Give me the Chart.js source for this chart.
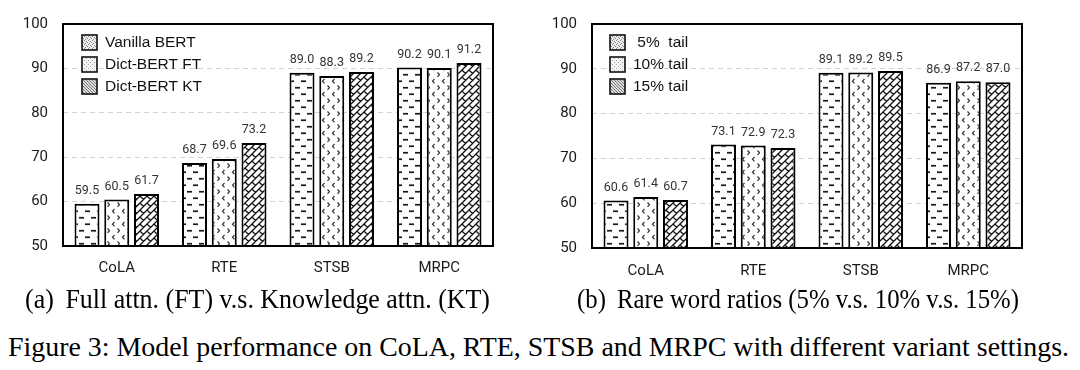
<!DOCTYPE html>
<html>
<head>
<meta charset="utf-8">
<script src="https://cdn.jsdelivr.net/npm/chart.js@4.4.1/dist/chart.umd.min.js"></script>
<style>
  html, body { margin: 0; padding: 0; background: #fff; }
  #wrap { position: relative; width: 1080px; height: 370px; overflow: hidden; background: #fff; }
  canvas { position: absolute; top: 0; }
  .cap { position: absolute; font-family: "Liberation Serif", "Times New Roman", serif; font-size: 28px;
         line-height: 28px; color: #000; white-space: pre; transform-origin: left top; }
</style>
</head>
<body>
<div id="wrap">
  <canvas id="c1" width="540" height="285" style="left:0px"></canvas>
  <canvas id="c2" width="540" height="285" style="left:540px"></canvas>
  <span class="cap" id="capA" data-left="25" data-width="465" data-base="308">(a)&#x2009; Full attn. (FT) v.s. Knowledge attn. (KT)</span>
  <span class="cap" id="capB" data-left="577" data-width="442" data-base="308">(b)&#x2009; Rare word ratios (5% v.s. 10% v.s. 15%)</span>
  <span class="cap" id="capF" data-left="8" data-width="1061" data-base="356">Figure 3: Model performance on CoLA, RTE, STSB and MRPC with different variant settings.</span>
</div>
<script>
// ---------------- data ----------------
const categories = ['CoLA', 'RTE', 'STSB', 'MRPC'];
const yTicks = [50, 60, 70, 80, 90, 100];

const seriesNamesA = ['Vanilla BERT', 'Dict-BERT FT', 'Dict-BERT KT'];
const vanillaBert = [59.5, 68.7, 89.0, 90.2];
const dictBertFT  = [60.5, 69.6, 88.3, 90.1];
const dictBertKT  = [61.7, 73.2, 89.2, 91.2];

const seriesNamesB = [' 5%  tail', '10% tail', '15% tail'];
const tail5  = [60.6, 73.1, 89.1, 86.9];
const tail10 = [61.4, 72.9, 89.2, 87.2];
const tail15 = [60.7, 72.3, 89.5, 87.0];

// ---------------- patterns ----------------
function tile(w, h, draw) {
  const c = document.createElement('canvas');
  c.width = w; c.height = h;
  const g = c.getContext('2d');
  g.fillStyle = '#fff'; g.fillRect(0, 0, w, h);
  draw(g);
  return c;
}
function dashPattern(ctx) {
  const c = tile(12, 13, g => {
    g.fillStyle = '#1a1a1a';
    g.fillRect(1, 2.4, 5, 1.7);
    g.fillRect(7, 8.9, 5, 1.7);
  });
  return ctx.createPattern(c, 'repeat');
}
function chevronPattern(ctx) {
  const c = tile(10, 13, g => {
    g.strokeStyle = '#333'; g.lineWidth = 1.2;
    g.beginPath();
    g.moveTo(4.5, 1); g.lineTo(2.5, 3.2); g.lineTo(4.5, 5.4);
    g.moveTo(7.5, 7.5); g.lineTo(9.5, 9.7); g.lineTo(7.5, 11.9);
    g.stroke();
  });
  return ctx.createPattern(c, 'repeat');
}
function brickPattern(ctx) {
  const s = 14;
  const c = tile(s, s, g => {
    g.strokeStyle = '#111'; g.lineWidth = 1.3;
    g.beginPath();
    for (let k = -6; k <= 6; k++) {
      const v = 7 * k;
      g.moveTo(-30, -30 + v); g.lineTo(50, 50 + v);
      const p = ((k % 2) + 2) % 2;
      for (let m = -6; m <= 6; m++) {
        const u = 14 * m + 7 * p;
        const x1 = (u - v) / 2, y1 = (u + v) / 2;
        const x2 = (u - v - 7) / 2, y2 = (u + v + 7) / 2;
        g.moveTo(x1, y1); g.lineTo(x2, y2);
      }
    }
    g.stroke();
  });
  const m = document.createElement('canvas');
  m.width = s; m.height = s;
  const mg = m.getContext('2d');
  mg.translate(s, 0); mg.scale(-1, 1); mg.drawImage(c, 0, 0);
  return ctx.createPattern(m, 'repeat');
}
function dotTile(ctx, bg, fg, pts, w, h) {
  const c = tile(w, h, g => {
    g.fillStyle = bg; g.fillRect(0, 0, w, h);
    g.fillStyle = fg;
    pts.forEach(p => g.fillRect(p[0], p[1], 1, 1));
  });
  return ctx.createPattern(c, 'repeat');
}
function legendPatterns(ctx) {
  return [
    dotTile(ctx, '#ececec', '#8a8a8a', [[0,0],[2,1],[1,3],[3,2]], 4, 4),
    dotTile(ctx, '#f3f3f3', '#a8a8a8', [[0,0],[2,2]], 4, 4),
    dotTile(ctx, '#dcdcdc', '#7a7a7a', [[0,0],[1,1],[2,2]], 3, 3)
  ];
}

// ---------------- plugins ----------------
const framePlugin = {
  id: 'frame',
  afterDraw(chart) {
    const { ctx, chartArea: a } = chart;
    ctx.save();
    ctx.strokeStyle = '#000'; ctx.lineWidth = 2;
    ctx.strokeRect(a.left, a.top, a.right - a.left, a.bottom - a.top);
    ctx.restore();
  }
};
const valueLabels = {
  id: 'valueLabels',
  afterDatasetsDraw(chart, args, opts) {
    const { ctx } = chart;
    ctx.save();
    ctx.font = '12.5px Roboto';
    ctx.fillStyle = '#333';
    ctx.textAlign = 'center';
    ctx.textBaseline = 'middle';
    chart.data.datasets.forEach((ds, i) => {
      chart.getDatasetMeta(i).data.forEach((el, j) => {
        ctx.fillText(ds.data[j].toFixed(1), el.x, el.y - opts.offset);
      });
    });
    ctx.restore();
  }
};
const insideLegend = {
  id: 'insideLegend',
  afterDraw(chart, args, opts) {
    const { ctx } = chart;
    const pats = legendPatterns(ctx);
    ctx.save();
    ctx.font = '15.5px "Liberation Sans", Arial, sans-serif';
    ctx.textAlign = 'left';
    ctx.textBaseline = 'middle';
    chart.data.datasets.forEach((ds, i) => {
      const y = opts.y + i * opts.gap;
      ctx.fillStyle = pats[i];
      ctx.fillRect(opts.x, y, 15, 15);
      ctx.strokeStyle = '#111'; ctx.lineWidth = 1.6;
      ctx.strokeRect(opts.x, y, 15, 15);
      ctx.fillStyle = '#111';
      ctx.fillText(ds.label, opts.textX, y + 8);
    });
    ctx.restore();
  }
};

// ---------------- chart builder ----------------
function makeChart(id, names, series, geom) {
  const canvas = document.getElementById(id);
  const ctx = canvas.getContext('2d');
  const fills = [dashPattern(ctx), chevronPattern(ctx), brickPattern(ctx)];
  return new Chart(ctx, {
    type: 'bar',
    data: {
      labels: categories,
      datasets: series.map((d, i) => ({
        label: names[i],
        data: d,
        backgroundColor: fills[i],
        borderColor: '#000',
        borderWidth: 2,
        borderSkipped: false,
        categoryPercentage: 0.83,
        barPercentage: 0.84
      }))
    },
    options: {
      responsive: false,
      animation: false,
      devicePixelRatio: 1,
      layout: { padding: { left: 0, top: geom.top, right: geom.right, bottom: 0 } },
      plugins: {
        legend: { display: false },
        tooltip: { enabled: false },
        valueLabels: { offset: 13 },
        insideLegend: geom.legend
      },
      scales: {
        x: {
          grid: { display: false, drawTicks: false, tickLength: 0 },
          border: { display: false },
          ticks: { font: { family: 'Roboto', size: 15 }, color: '#1a1a1a', padding: geom.xPad },
          afterFit(s) { s.height = geom.xh; }
        },
        y: {
          min: yTicks[0],
          max: yTicks[yTicks.length - 1],
          afterBuildTicks(s) { s.ticks = yTicks.map(v => ({ value: v })); },
          grid: {
            drawTicks: false,
            tickLength: 0,
            color: c => (c.tick && (c.tick.value === yTicks[0] || c.tick.value === yTicks[yTicks.length - 1])) ? 'rgba(0,0,0,0)' : '#d2d2d2',
            lineWidth: 1
          },
          border: { display: false, dash: [5, 4] },
          ticks: { font: { family: 'Roboto', size: 15 }, color: '#1a1a1a', padding: 15 },
          afterFit(s) { s.width = geom.yw; }
        }
      }
    },
    plugins: [valueLabels, framePlugin, insideLegend]
  });
}

makeChart('c1', seriesNamesA, [vanillaBert, dictBertFT, dictBertKT],
  { top: 22, right: 47, yw: 63, xh: 39, xPad: 13, legend: { x: 82, y: 35, gap: 22, textX: 105 } });
makeChart('c2', seriesNamesB, [tail5, tail10, tail15],
  { top: 19, right: 58, yw: 52, xh: 37, xPad: 14, legend: { x: 70, y: 35, gap: 22, textX: 93 } });

// ---------------- captions fit ----------------
document.querySelectorAll('.cap').forEach(el => {
  const left = +el.dataset.left, width = +el.dataset.width, base = +el.dataset.base;
  el.style.left = left + 'px';
  el.style.top = (base - 23.45) + 'px';
  const w = el.getBoundingClientRect().width;
  el.style.transform = 'scaleX(' + (width / w) + ')';
});
</script>
</body>
</html>
